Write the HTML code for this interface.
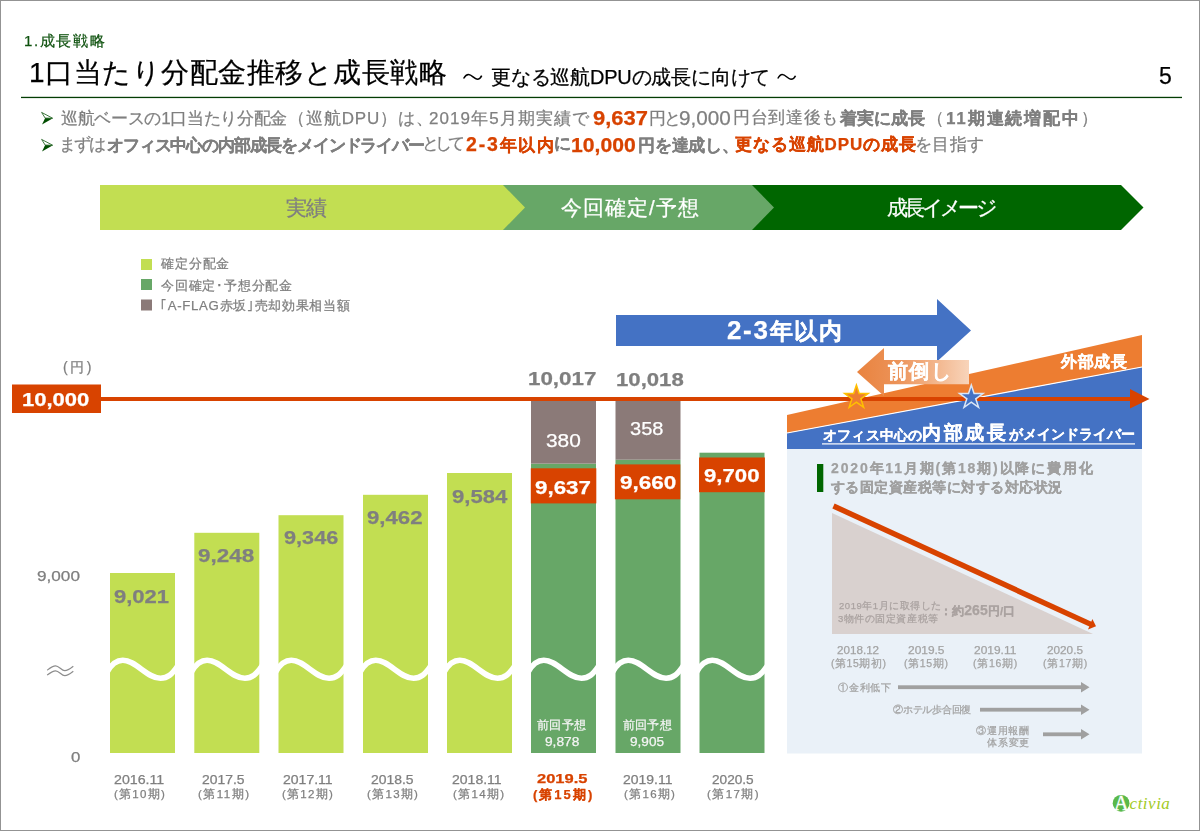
<!DOCTYPE html>
<html lang="ja">
<head>
<meta charset="utf-8">
<style>
html,body{margin:0;padding:0;background:#fff;}
body{width:1200px;height:831px;overflow:hidden;position:relative;font-family:"Liberation Sans",sans-serif;}
#pg{position:absolute;left:0;top:0;width:1198px;height:829px;border:1px solid #939393;}
svg{position:absolute;left:0;top:0;}
.t{position:absolute;white-space:nowrap;line-height:1;-webkit-font-smoothing:antialiased;will-change:transform;-webkit-text-stroke:0.25px currentColor;}
.o{color:#d84300;}
b{font-weight:bold;}
</style>
</head>
<body>
<div id="pg"></div>
<svg width="1200" height="831" viewBox="0 0 1200 831">
<defs>
<linearGradient id="mg" x1="0" x2="1" y1="0" y2="0">
<stop offset="0" stop-color="#e9833f"/>
<stop offset="0.35" stop-color="#ec9257"/>
<stop offset="1" stop-color="#f8d4ba"/>
</linearGradient>
<path id="wv" d="M-3,672 C1,665 6,660.2 12.8,660.2 C26,660.2 37,678.3 50.6,678.3 C57.5,678.3 62,674.5 68,665.5" fill="none" stroke="#fff" stroke-width="5.6"/>
</defs>
<!-- title rule -->
<rect x="21" y="96.8" width="1161" height="1.3" fill="#033d03"/>
<!-- banner -->
<polygon points="745,185 1121,185 1143.5,207.5 1121,230 745,230" fill="#006600"/>
<polygon points="497,185 752,185 774,207.5 752,230 497,230" fill="#67a767"/>
<polygon points="100,185 503,185 525,207.5 503,230 100,230" fill="#c2de52"/>
<!-- legend squares -->
<rect x="141" y="259" width="11" height="11" fill="#c2de52"/>
<rect x="141" y="279" width="11" height="11" fill="#67a767"/>
<rect x="141" y="299.5" width="11" height="11" fill="#8b7a78"/>
<!-- bars -->
<rect x="110" y="573" width="65" height="180" fill="#c2de52"/>
<rect x="194.3" y="532.8" width="65" height="220.2" fill="#c2de52"/>
<rect x="278.5" y="515.2" width="65" height="237.8" fill="#c2de52"/>
<rect x="363" y="494.8" width="65" height="258.2" fill="#c2de52"/>
<rect x="447" y="473" width="65" height="280" fill="#c2de52"/>
<rect x="531" y="463.6" width="65" height="289.4" fill="#67a767"/>
<rect x="531" y="397" width="65" height="66.6" fill="#8b7a78"/>
<rect x="615.5" y="459.7" width="65" height="293.3" fill="#67a767"/>
<rect x="615.5" y="397" width="65" height="62.7" fill="#8b7a78"/>
<rect x="699.5" y="452.7" width="65" height="300.3" fill="#67a767"/>
<!-- waves -->
<use href="#wv" x="110"/>
<use href="#wv" x="194.3"/>
<use href="#wv" x="278.5"/>
<use href="#wv" x="363"/>
<use href="#wv" x="447"/>
<use href="#wv" x="531"/>
<use href="#wv" x="615.5"/>
<use href="#wv" x="699.5"/>
<!-- orange value boxes -->
<rect x="530.8" y="468.3" width="65.5" height="35.1" fill="#d84300"/>
<rect x="614.9" y="464.4" width="65.4" height="34.9" fill="#d84300"/>
<rect x="699" y="457.5" width="65.9" height="34.7" fill="#d84300"/>
<!-- right panel -->
<rect x="787" y="449" width="355" height="304.5" fill="#eaf1f8"/>
<polygon points="787,433 1142,367 1142,449 787,449" fill="#4472c4"/>
<polygon points="787,415 1142,335 1142,367 787,433" fill="#ed7d31"/>
<line x1="787" y1="433" x2="1142" y2="367" stroke="#fff" stroke-width="1.2"/>
<!-- blue arrow -->
<polygon points="616,315 937,315 937,299 971,330.5 937,361.5 937,346 616,346" fill="#4472c4"/>
<!-- maedaoshi arrow -->
<polygon points="857,372 884,348 884,360 969,360 969,384.3 884,384.3 884,396" fill="url(#mg)"/>
<!-- 10000 line -->
<rect x="12" y="384.5" width="89" height="28.5" fill="#d84300"/>
<rect x="100" y="397" width="1031" height="4" fill="#d84300"/>
<polygon points="1130,389 1149.5,399 1130,408.5" fill="#d84300"/>
<!-- stars -->
<polygon id="st1" fill="#ed7d31" stroke="#ffc000" stroke-width="1.5"
 points="856.40,385.10 859.16,393.60 868.10,393.60 860.87,398.85 863.63,407.35 856.40,402.10 849.17,407.35 851.93,398.85 844.70,393.60 853.64,393.60"/>
<polygon fill="#4472c4" stroke="#dae6f6" stroke-width="1.5"
 points="971.30,385.10 974.06,393.60 983.00,393.60 975.77,398.85 978.53,407.35 971.30,402.10 964.07,407.35 966.83,398.85 959.60,393.60 968.54,393.60"/>
<!-- underline in blue band -->
<rect x="822" y="443.3" width="313" height="1.2" fill="#fff"/>
<!-- panel marker -->
<rect x="817" y="464" width="6.3" height="28" fill="#006600"/>
<!-- triangle -->
<polygon points="832,513 832,634 1093,634" fill="#d9d1cf"/>
<line x1="833.5" y1="506" x2="1091" y2="624.4" stroke="#d84300" stroke-width="5.4"/>
<polygon points="1092.4,619 1096,626.3 1088,629.6" fill="#d84300"/>
<!-- grey arrows -->
<rect x="898" y="685.3" width="184" height="3.8" fill="#a0a0a0"/>
<polygon points="1081,682 1089.5,687.2 1081,692.4" fill="#a0a0a0"/>
<rect x="980" y="707.8" width="102" height="3.8" fill="#a0a0a0"/>
<polygon points="1081,704.5 1089.5,709.7 1081,714.9" fill="#a0a0a0"/>
<rect x="1043" y="732.4" width="39" height="3.8" fill="#a0a0a0"/>
<polygon points="1081,729 1089.5,734.2 1081,739.4" fill="#a0a0a0"/>
<!-- bullet arrows -->
<g id="bar1">
<polygon points="45.2,118.1 52.9,118.3 42,124.6" fill="#004d00"/>
<polygon points="41.6,112.4 52.6,118.2 45.2,118.1" fill="none" stroke="#2a6a2a" stroke-width="0.9" stroke-linejoin="round"/>
</g>
<use href="#bar1" y="27"/>
<!-- tildes -->
<path d="M463.6,78.5 C465,76 466.5,74.5 468.5,74.5 C472,74.5 474,79.2 477.3,79.2 C479.5,79.2 481,77.2 481.7,75.6" fill="none" stroke="#000" stroke-width="1.5"/>
<path d="M777.8,78.5 C779.2,76 780.2,74.5 782.2,74.5 C785.8,74.5 787.8,79.2 791,79.2 C793.2,79.2 794.8,77.3 795.5,75.7" fill="none" stroke="#000" stroke-width="1.5"/>
<!-- approx sign -->
<g fill="none" stroke="#8c8c8c" stroke-width="1.2">
<path d="M47.2,670.2 C50,668 52.5,665.9 55.6,665.9 C59,665.9 61.5,670.7 64.8,670.7 C68,670.7 70.5,668.5 73.3,666.3"/>
<path d="M47.2,675.1 C50,672.9 52.5,670.8 55.6,670.8 C59,670.8 61.5,675.6 64.8,675.6 C68,675.6 70.5,673.4 73.3,671.2"/>
</g>
<!-- logo -->
<circle cx="1121.1" cy="803.3" r="8.4" fill="#5ab94a"/>
<text x="1121.2" y="809.8" font-family="Liberation Serif" font-size="20" fill="#fff" text-anchor="middle" stroke="#fff" stroke-width="0.4">A</text>
<text x="1129.6" y="808.7" font-family="Liberation Serif" font-style="italic" font-size="17" fill="#a2cb26" letter-spacing="0.5">ctivia</text>
</svg>
<div class="t" id="sec" style="left:24.00px;top:32.55px;font-size:15px;color:#0f520f;letter-spacing:1.600px;">1.成長戦略</div>
<div class="t" id="title" style="left:29.00px;top:58.85px;font-size:27.9px;color:#000;letter-spacing:0.500px;">1口当たり分配金推移と成長戦略</div>
<div class="t" id="sub" style="left:491.00px;top:66.50px;font-size:20px;color:#000;letter-spacing:-0.206px;">更なる巡航DPUの成長に向けて</div>
<div class="t" id="pno" style="left:1159.00px;top:64.90px;font-size:23px;color:#000;">5</div>
<div class="t" id="b1a" style="left:61.00px;top:109.85px;font-size:17px;color:#7f7f7f;letter-spacing:-0.310px;">巡航ベースの1口当たり分配金</div>
<div class="t" id="b1a2" style="left:287.90px;top:109.90px;font-size:17px;color:#7f7f7f;letter-spacing:0.875px;">（巡航DPU）は、</div>
<div class="t" id="b1a3" style="left:428.90px;top:109.90px;font-size:17px;color:#7f7f7f;letter-spacing:1.080px;">2019年5月期実績で</div>
<div class="t" id="b1b" style="left:593.06px;top:108.85px;font-size:19.5px;color:#d84300;transform:scaleX(1.1260);transform-origin:0 0;font-weight:bold;">9,637</div>
<div class="t" id="b1c" style="left:649.20px;top:109.85px;font-size:17px;color:#7f7f7f;letter-spacing:-1.900px;">円と</div>
<div class="t" id="b1c2" style="left:679.16px;top:109.30px;font-size:19.5px;color:#7f7f7f;transform:scaleX(1.0602);transform-origin:0 0;">9,000</div>
<div class="t" id="b1c3" style="left:732.75px;top:108.90px;font-size:17px;color:#7f7f7f;letter-spacing:0.680px;">円台到達後も</div>
<div class="t" id="b1d" style="left:839.90px;top:109.85px;font-size:17px;color:#7f7f7f;font-weight:bold;">着実に成長</div>
<div class="t" id="b1e" style="left:927.30px;top:109.85px;font-size:17px;color:#7f7f7f;letter-spacing:1.889px;">（<b>11期連続増配中</b>）</div>
<div class="t" id="b2a" style="left:58.70px;top:136.15px;font-size:17px;color:#7f7f7f;letter-spacing:-2.000px;">まずは</div>
<div class="t" id="b2b" style="left:107.00px;top:137.15px;font-size:17px;color:#7f7f7f;letter-spacing:-1.158px;font-weight:bold;">オフィス中心の内部成長をメインドライバー</div>
<div class="t" id="b2c" style="left:422.00px;top:135.15px;font-size:17px;color:#7f7f7f;letter-spacing:-4.000px;">として</div>
<div class="t" id="b2d" style="left:465.80px;top:135.15px;font-size:17px;color:#d84300;letter-spacing:1.800px;font-weight:bold;"><span style="font-size:19.5px">2-3</span>年以内</div>
<div class="t" id="b2e" style="left:554.00px;top:135.15px;font-size:17px;color:#7f7f7f;font-weight:bold;">に</div>
<div class="t" id="b2f" style="left:571.46px;top:136.05px;font-size:19.5px;color:#d84300;transform:scaleX(1.0854);transform-origin:0 0;font-weight:bold;">10,000</div>
<div class="t" id="b2g" style="left:638.20px;top:137.15px;font-size:17px;color:#7f7f7f;letter-spacing:-0.200px;font-weight:bold;">円を達成し、</div>
<div class="t" id="b2h" style="left:734.80px;top:136.15px;font-size:17px;color:#d84300;letter-spacing:0.900px;font-weight:bold;">更なる巡航DPUの成長</div>
<div class="t" id="b2i" style="left:915.40px;top:136.15px;font-size:17px;color:#7f7f7f;letter-spacing:0.333px;">を目指す</div>
<div class="t" id="ban1" style="left:286.40px;top:198.20px;font-size:20.5px;color:#7f7f7f;letter-spacing:-0.700px;">実績</div>
<div class="t" id="ban2" style="left:560.80px;top:198.15px;font-size:20.5px;color:#fff;letter-spacing:0.983px;">今回確定/予想</div>
<div class="t" id="ban3" style="left:887.00px;top:198.40px;font-size:20.5px;color:#fff;letter-spacing:-3.660px;">成長イメージ</div>
<div class="t" id="leg1" style="left:160.60px;top:256.60px;font-size:13.2px;color:#7f7f7f;letter-spacing:0.850px;">確定分配金</div>
<div class="t" id="leg2" style="left:160.60px;top:278.70px;font-size:13.2px;color:#7f7f7f;letter-spacing:0.789px;">今回確定･予想分配金</div>
<div class="t" id="leg3" style="left:159.60px;top:299.15px;font-size:13.2px;color:#7f7f7f;letter-spacing:0.700px;">｢A-FLAG赤坂｣売却効果相当額</div>
<div class="t" id="yen" style="left:63.00px;top:360.10px;font-size:14px;color:#7f7f7f;letter-spacing:2.500px;">(円)</div>
<div class="t" id="k10000" style="left:21.78px;top:390.60px;font-size:18px;color:#fff;transform:scaleX(1.2222);transform-origin:0 0;font-weight:bold;">10,000</div>
<div class="t" id="y9000" style="left:36.66px;top:568.80px;font-size:14px;color:#7f7f7f;transform:scaleX(1.2257);transform-origin:0 0;">9,000</div>
<div class="t" id="y0" style="left:71.32px;top:749.60px;font-size:14px;color:#7f7f7f;transform:scaleX(1.2018);transform-origin:0 0;">0</div>
<div class="t" id="v1" style="left:114.10px;top:586.50px;font-size:19px;color:#7f7f7f;transform:scaleX(1.1589);transform-origin:0 0;font-weight:bold;">9,021</div>
<div class="t" id="v2" style="left:198.46px;top:545.90px;font-size:19px;color:#7f7f7f;transform:scaleX(1.1802);transform-origin:0 0;font-weight:bold;">9,248</div>
<div class="t" id="v3" style="left:283.65px;top:527.90px;font-size:19px;color:#7f7f7f;transform:scaleX(1.1420);transform-origin:0 0;font-weight:bold;">9,346</div>
<div class="t" id="v4" style="left:367.16px;top:508.30px;font-size:19px;color:#7f7f7f;transform:scaleX(1.1669);transform-origin:0 0;font-weight:bold;">9,462</div>
<div class="t" id="v5" style="left:451.96px;top:486.70px;font-size:19px;color:#7f7f7f;transform:scaleX(1.1636);transform-origin:0 0;font-weight:bold;">9,584</div>
<div class="t" id="t10017" style="left:527.90px;top:370.40px;font-size:18px;color:#7f7f7f;transform:scaleX(1.2424);transform-origin:0 0;font-weight:bold;">10,017</div>
<div class="t" id="t10018" style="left:615.59px;top:370.60px;font-size:18px;color:#7f7f7f;transform:scaleX(1.2304);transform-origin:0 0;font-weight:bold;">10,018</div>
<div class="t" id="s380" style="left:545.90px;top:430.50px;font-size:19px;color:#fff;transform:scaleX(1.1000);transform-origin:0 0;">380</div>
<div class="t" id="s358" style="left:630.17px;top:418.90px;font-size:19px;color:#fff;transform:scaleX(1.0544);transform-origin:0 0;">358</div>
<div class="t" id="w9637" style="left:535.14px;top:477.70px;font-size:19px;color:#fff;transform:scaleX(1.1762);transform-origin:0 0;font-weight:bold;">9,637</div>
<div class="t" id="w9660" style="left:619.98px;top:472.90px;font-size:19px;color:#fff;transform:scaleX(1.1848);transform-origin:0 0;font-weight:bold;">9,660</div>
<div class="t" id="w9700" style="left:704.30px;top:465.90px;font-size:19px;color:#fff;transform:scaleX(1.1671);transform-origin:0 0;font-weight:bold;">9,700</div>
<div class="t" id="p1a" style="left:537.40px;top:720.05px;font-size:11.5px;color:#f4f4f4;letter-spacing:0.300px;">前回予想</div>
<div class="t" id="p1b" style="left:545.00px;top:735.60px;font-size:12px;color:#f4f4f4;transform:scaleX(1.1423);transform-origin:0 0;">9,878</div>
<div class="t" id="p2a" style="left:622.80px;top:720.05px;font-size:11.5px;color:#f4f4f4;letter-spacing:0.200px;">前回予想</div>
<div class="t" id="p2b" style="left:630.35px;top:735.60px;font-size:12px;color:#f4f4f4;transform:scaleX(1.1333);transform-origin:0 0;">9,905</div>
<div class="t" id="x1a" style="left:114.32px;top:774.20px;font-size:12px;color:#7f7f7f;transform:scaleX(1.1814);transform-origin:0 0;">2016.11</div>
<div class="t" id="x1b" style="left:114.40px;top:789.35px;font-size:11.5px;color:#7f7f7f;letter-spacing:1.260px;">(第10期)</div>
<div class="t" id="x2a" style="left:202.48px;top:774.20px;font-size:12px;color:#7f7f7f;transform:scaleX(1.1576);transform-origin:0 0;">2017.5</div>
<div class="t" id="x2b" style="left:198.20px;top:789.35px;font-size:11.5px;color:#7f7f7f;letter-spacing:1.500px;">(第11期)</div>
<div class="t" id="x3a" style="left:282.65px;top:774.20px;font-size:12px;color:#7f7f7f;transform:scaleX(1.1681);transform-origin:0 0;">2017.11</div>
<div class="t" id="x3b" style="left:282.00px;top:789.35px;font-size:11.5px;color:#7f7f7f;letter-spacing:1.260px;">(第12期)</div>
<div class="t" id="x4a" style="left:371.48px;top:774.20px;font-size:12px;color:#7f7f7f;transform:scaleX(1.1576);transform-origin:0 0;">2018.5</div>
<div class="t" id="x4b" style="left:367.40px;top:789.35px;font-size:11.5px;color:#7f7f7f;letter-spacing:1.300px;">(第13期)</div>
<div class="t" id="x5a" style="left:452.49px;top:774.20px;font-size:12px;color:#7f7f7f;transform:scaleX(1.1681);transform-origin:0 0;">2018.11</div>
<div class="t" id="x5b" style="left:452.80px;top:789.35px;font-size:11.5px;color:#7f7f7f;letter-spacing:1.320px;">(第14期)</div>
<div class="t" id="x6a" style="left:537.41px;top:772.10px;font-size:13px;color:#d84300;transform:scaleX(1.2688);transform-origin:0 0;font-weight:bold;">2019.5</div>
<div class="t" id="x6b" style="left:533.40px;top:788.00px;font-size:13px;color:#d84300;letter-spacing:2.020px;font-weight:bold;">(第15期)</div>
<div class="t" id="x7a" style="left:623.13px;top:774.20px;font-size:12px;color:#7f7f7f;transform:scaleX(1.1629);transform-origin:0 0;">2019.11</div>
<div class="t" id="x7b" style="left:623.60px;top:789.35px;font-size:11.5px;color:#7f7f7f;letter-spacing:1.300px;">(第16期)</div>
<div class="t" id="x8a" style="left:711.68px;top:774.20px;font-size:12px;color:#7f7f7f;transform:scaleX(1.1351);transform-origin:0 0;">2020.5</div>
<div class="t" id="x8b" style="left:706.60px;top:789.35px;font-size:11.5px;color:#7f7f7f;letter-spacing:1.440px;">(第17期)</div>
<div class="t" id="a23" style="left:727.20px;top:317.45px;font-size:22.5px;color:#fff;letter-spacing:1.660px;font-weight:bold;"><span style="font-size:26px">2-3</span>年以内</div>
<div class="t" id="mae" style="left:888.00px;top:360.65px;font-size:20.4px;color:#fff;letter-spacing:1.300px;font-weight:bold;">前倒し</div>
<div class="t" id="gai" style="left:1061.00px;top:354.45px;font-size:16px;color:#fff;letter-spacing:0.500px;font-weight:bold;">外部成長</div>
<div class="t" id="of1" style="left:822.60px;top:429.15px;font-size:13.5px;color:#fff;letter-spacing:0.233px;font-weight:bold;">オフィス中心の</div>
<div class="t" id="of2" style="left:922.40px;top:423.65px;font-size:18.5px;color:#fff;letter-spacing:2.733px;font-weight:bold;">内部成長</div>
<div class="t" id="of3" style="left:1009.00px;top:428.15px;font-size:13.5px;color:#fff;letter-spacing:0.037px;font-weight:bold;">がメインドライバー</div>
<div class="t" id="pt1" style="left:830.60px;top:460.65px;font-size:14px;color:#a0a0a0;letter-spacing:1.845px;font-weight:bold;">2020年11月期(第18期)以降に費用化</div>
<div class="t" id="pt2" style="left:830.60px;top:480.40px;font-size:14px;color:#a0a0a0;letter-spacing:0.480px;font-weight:bold;">する固定資産税等に対する対応状況</div>
<div class="t" id="tr1" style="left:838.60px;top:601.45px;font-size:9.5px;color:#aaa2a0;letter-spacing:0.536px;">2019年1月に取得した</div>
<div class="t" id="tr2" style="left:838.00px;top:613.85px;font-size:9.5px;color:#aaa2a0;letter-spacing:0.533px;">3物件の固定資産税等</div>
<div class="t" id="tr3" style="left:940.00px;top:602.95px;font-size:11.5px;color:#aaa2a0;letter-spacing:0.100px;font-weight:bold;">：約<b style="font-size:14px">265</b>円/口</div>
<div class="t" id="q1a" style="left:836.72px;top:645.10px;font-size:11px;color:#a3a3a3;transform:scaleX(1.0583);transform-origin:0 0;">2018.12</div>
<div class="t" id="q1b" style="left:830.80px;top:658.25px;font-size:10.5px;color:#a3a3a3;letter-spacing:0.550px;">(第15期初)</div>
<div class="t" id="q2a" style="left:907.99px;top:645.10px;font-size:11px;color:#a3a3a3;transform:scaleX(1.0839);transform-origin:0 0;">2019.5</div>
<div class="t" id="q2b" style="left:904.20px;top:658.25px;font-size:10.5px;color:#a3a3a3;letter-spacing:0.660px;">(第15期)</div>
<div class="t" id="q3a" style="left:973.74px;top:645.10px;font-size:11px;color:#a3a3a3;transform:scaleX(1.0854);transform-origin:0 0;">2019.11</div>
<div class="t" id="q3b" style="left:973.00px;top:657.75px;font-size:10.5px;color:#a3a3a3;letter-spacing:0.700px;">(第16期)</div>
<div class="t" id="q4a" style="left:1046.73px;top:645.10px;font-size:11px;color:#a3a3a3;transform:scaleX(1.0690);transform-origin:0 0;">2020.5</div>
<div class="t" id="q4b" style="left:1042.60px;top:657.75px;font-size:10.5px;color:#a3a3a3;letter-spacing:0.700px;">(第17期)</div>
<div class="t" id="r1" style="left:837.80px;top:683.40px;font-size:10px;color:#a3a3a3;letter-spacing:0.750px;">①金利低下</div>
<div class="t" id="r2" style="left:893.00px;top:705.45px;font-size:10px;color:#a3a3a3;letter-spacing:-0.229px;">②ホテル歩合回復</div>
<div class="t" id="r3a" style="left:976.40px;top:725.85px;font-size:10px;color:#a3a3a3;letter-spacing:0.800px;">③運用報酬</div>
<div class="t" id="r3b" style="left:987.00px;top:738.45px;font-size:10px;color:#a3a3a3;letter-spacing:0.800px;">体系変更</div>
</body>
</html>
